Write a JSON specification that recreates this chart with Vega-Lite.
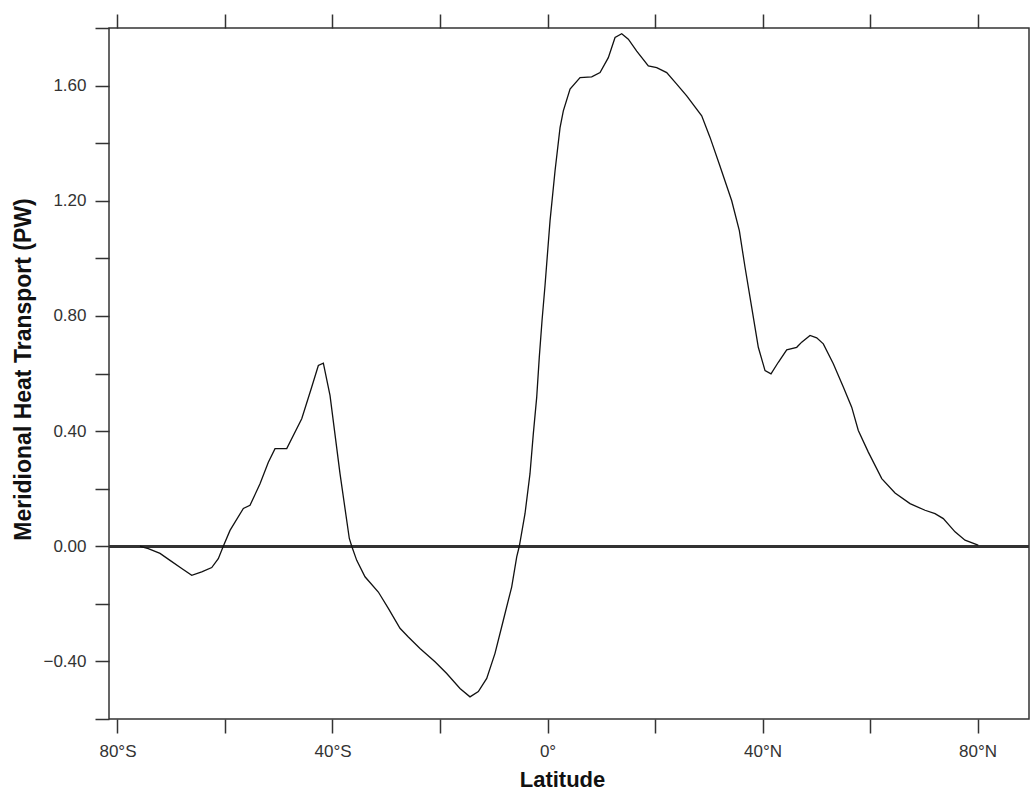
{
  "$schema": "https://vega.github.io/schema/vega-lite/v6.json",
  "width": 920,
  "height": 691,
  "autosize": "none",
  "padding": {"left": 109, "top": 28, "right": 1, "bottom": 71},
  "background": "white",
  "config": {
    "view": {"stroke": "#333333", "strokeWidth": 1.5},
    "font": "Liberation Sans",
    "axis": {
      "domain": false,
      "grid": false,
      "tickColor": "#333333",
      "tickWidth": 1.5,
      "tickSize": 14,
      "labelFont": "Liberation Sans",
      "labelFontSize": 17,
      "labelColor": "#333333",
      "titleFont": "Liberation Sans",
      "titleFontWeight": "bold",
      "titleColor": "#111111"
    }
  },
  "data": {
    "values": [
      {"lat": -75.8, "pw": 0.0},
      {"lat": -74.26, "pw": -0.008},
      {"lat": -72.08, "pw": -0.025},
      {"lat": -70.22, "pw": -0.049},
      {"lat": -68.04, "pw": -0.077},
      {"lat": -66.18, "pw": -0.101},
      {"lat": -64.32, "pw": -0.089},
      {"lat": -62.46, "pw": -0.074},
      {"lat": -61.24, "pw": -0.043},
      {"lat": -60.31, "pw": 0.0},
      {"lat": -59.06, "pw": 0.055},
      {"lat": -56.58, "pw": 0.131},
      {"lat": -55.34, "pw": 0.142},
      {"lat": -53.48, "pw": 0.217},
      {"lat": -51.93, "pw": 0.292},
      {"lat": -50.69, "pw": 0.339},
      {"lat": -48.51, "pw": 0.339},
      {"lat": -45.72, "pw": 0.443},
      {"lat": -43.86, "pw": 0.553},
      {"lat": -42.63, "pw": 0.628},
      {"lat": -41.7, "pw": 0.636},
      {"lat": -40.46, "pw": 0.524},
      {"lat": -38.6, "pw": 0.252},
      {"lat": -36.87, "pw": 0.027},
      {"lat": -36.42, "pw": 0.0},
      {"lat": -35.49, "pw": -0.049},
      {"lat": -33.95, "pw": -0.106},
      {"lat": -31.47, "pw": -0.159},
      {"lat": -29.61, "pw": -0.216},
      {"lat": -27.44, "pw": -0.285},
      {"lat": -25.89, "pw": -0.315},
      {"lat": -23.72, "pw": -0.355},
      {"lat": -20.93, "pw": -0.401},
      {"lat": -18.75, "pw": -0.442},
      {"lat": -16.28, "pw": -0.494},
      {"lat": -14.42, "pw": -0.523},
      {"lat": -12.87, "pw": -0.505},
      {"lat": -11.31, "pw": -0.459},
      {"lat": -9.77, "pw": -0.372},
      {"lat": -8.22, "pw": -0.257},
      {"lat": -6.66, "pw": -0.141},
      {"lat": -5.73, "pw": -0.037},
      {"lat": -5.25, "pw": 0.0},
      {"lat": -4.19, "pw": 0.113},
      {"lat": -3.26, "pw": 0.252},
      {"lat": -2.64, "pw": 0.391},
      {"lat": -2.01, "pw": 0.518},
      {"lat": -1.53, "pw": 0.657},
      {"lat": -1.02, "pw": 0.784},
      {"lat": -0.47, "pw": 0.905},
      {"lat": 0.47, "pw": 1.131},
      {"lat": 1.4, "pw": 1.304},
      {"lat": 2.33, "pw": 1.454},
      {"lat": 2.94, "pw": 1.512},
      {"lat": 4.19, "pw": 1.588},
      {"lat": 6.05, "pw": 1.628},
      {"lat": 8.22, "pw": 1.63},
      {"lat": 9.77, "pw": 1.645},
      {"lat": 11.31, "pw": 1.697},
      {"lat": 12.56, "pw": 1.767},
      {"lat": 13.8, "pw": 1.78},
      {"lat": 15.03, "pw": 1.761},
      {"lat": 16.59, "pw": 1.72},
      {"lat": 18.75, "pw": 1.668},
      {"lat": 20.31, "pw": 1.662},
      {"lat": 22.17, "pw": 1.645},
      {"lat": 24.03, "pw": 1.605},
      {"lat": 25.89, "pw": 1.564},
      {"lat": 28.68, "pw": 1.495},
      {"lat": 30.23, "pw": 1.42},
      {"lat": 31.96, "pw": 1.327},
      {"lat": 34.26, "pw": 1.2},
      {"lat": 35.68, "pw": 1.096},
      {"lat": 36.74, "pw": 0.969},
      {"lat": 37.98, "pw": 0.83},
      {"lat": 39.21, "pw": 0.691},
      {"lat": 40.46, "pw": 0.61},
      {"lat": 41.57, "pw": 0.599},
      {"lat": 42.93, "pw": 0.639},
      {"lat": 44.49, "pw": 0.682},
      {"lat": 46.35, "pw": 0.691},
      {"lat": 47.28, "pw": 0.709},
      {"lat": 48.83, "pw": 0.732},
      {"lat": 50.07, "pw": 0.724},
      {"lat": 51.3, "pw": 0.703},
      {"lat": 53.16, "pw": 0.634},
      {"lat": 55.02, "pw": 0.553},
      {"lat": 56.58, "pw": 0.483},
      {"lat": 57.81, "pw": 0.402},
      {"lat": 59.67, "pw": 0.327},
      {"lat": 62.17, "pw": 0.235},
      {"lat": 64.64, "pw": 0.185},
      {"lat": 67.43, "pw": 0.148},
      {"lat": 70.22, "pw": 0.125},
      {"lat": 72.08, "pw": 0.113},
      {"lat": 73.62, "pw": 0.096},
      {"lat": 75.8, "pw": 0.05},
      {"lat": 77.66, "pw": 0.021},
      {"lat": 79.84, "pw": 0.006},
      {"lat": 80.13, "pw": 0.003}
    ]
  },
  "layer": [
    {
      "mark": {"type": "rule", "color": "#333333", "strokeWidth": 2.6},
      "encoding": {"y": {"datum": 0, "type": "quantitative"}}
    },
    {
      "mark": {"type": "line", "color": "#111111", "strokeWidth": 1.3, "strokeOpacity": 0},
      "encoding": {
        "x": {
          "field": "lat",
          "type": "quantitative",
          "axis": {
            "orient": "top",
            "title": null,
            "labels": false,
            "values": [-80, -60, -40, -20, 0, 20, 40, 60, 80]
          }
        },
        "y": {"field": "pw", "type": "quantitative"}
      }
    },
    {
      "mark": {"type": "line", "color": "#111111", "strokeWidth": 1.3},
      "encoding": {
        "x": {
          "field": "lat",
          "type": "quantitative",
          "scale": {"domain": [-81.57, 89.56], "nice": false, "zero": false},
          "axis": {
            "orient": "bottom",
            "title": "Latitude",
            "titleFontSize": 22,
            "titleBaseline": "alphabetic",
            "titleX": 453,
            "titleY": 67,
            "values": [-80, -60, -40, -20, 0, 20, 40, 60, 80],
            "labelBaseline": "alphabetic",
            "labelPadding": 23,
            "labelExpr": "datum.value == 0 ? '0°' : (abs(datum.value) % 40 == 0 ? abs(datum.value) + (datum.value < 0 ? '°S' : '°N') : '')"
          }
        },
        "y": {
          "field": "pw",
          "type": "quantitative",
          "scale": {"domain": [-0.6, 1.8], "nice": false, "zero": false},
          "axis": {
            "title": "Meridional Heat Transport (PW)",
            "titleFontSize": 23,
            "titleBaseline": "alphabetic",
            "titleX": -79,
            "titleY": 341,
            "values": [-0.6, -0.4, -0.2, 0, 0.2, 0.4, 0.6, 0.8, 1.0, 1.2, 1.4, 1.6, 1.8],
            "labelPadding": 9,
            "labelExpr": "abs(round(datum.value * 10)) % 4 == 0 ? format(datum.value, '.2f') : ''"
          }
        }
      }
    }
  ],
  "resolve": {"axis": {"x": "independent"}}
}
